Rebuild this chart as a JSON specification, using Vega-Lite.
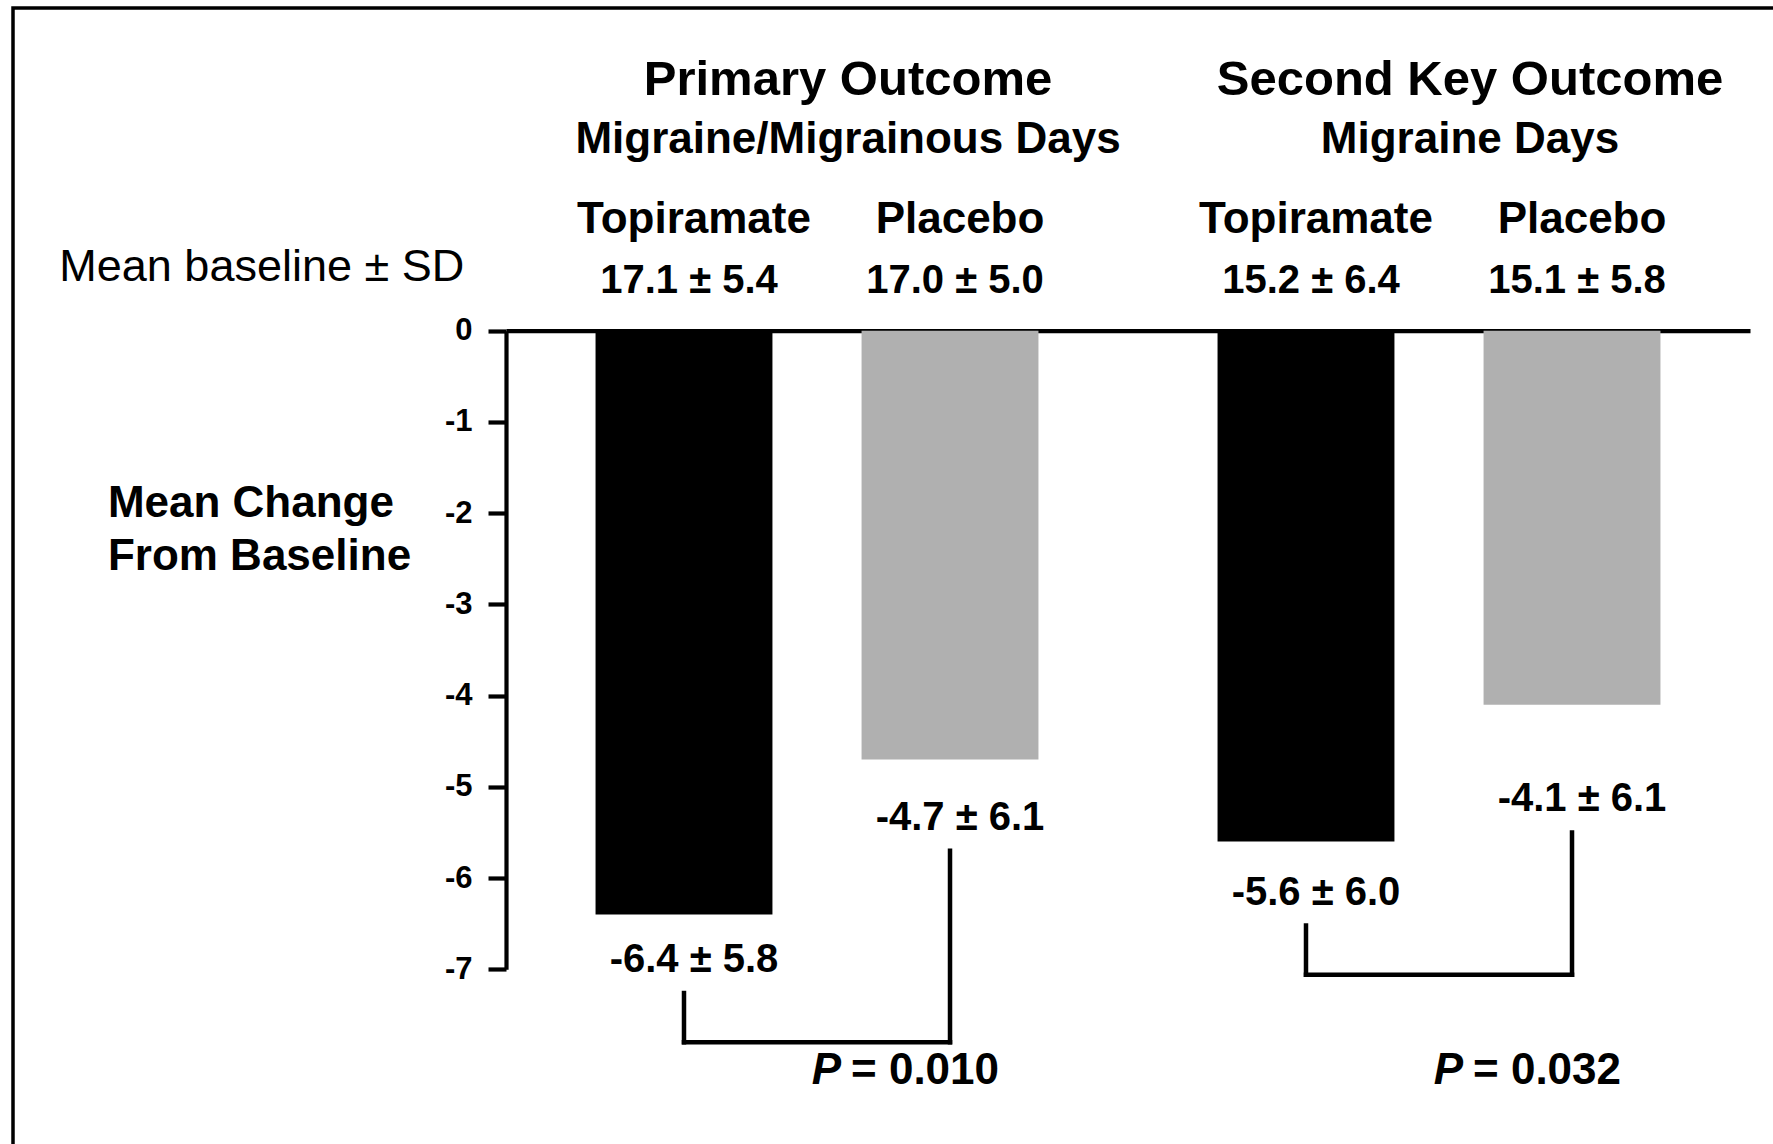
{
  "$schema": "https://vega.github.io/schema/vega-lite/v6.json",
  "width": 1780,
  "height": 1156,
  "autosize": "none",
  "padding": {"left": 13, "top": 8, "right": -20, "bottom": -20},
  "background": "white",
  "config": {
    "view": {"stroke": "black", "strokeWidth": 3.5},
    "text": {"font": "Liberation Sans", "fontWeight": "bold", "color": "black"},
    "line": {"color": "black"},
    "rule": {"color": "black"}
  },
  "datasets": {
    "arms": [
      {"outcome": "Primary", "treatment": "Topiramate", "baseline": "17.1 ± 5.4", "change": -6.4, "sd": 5.8, "change_label": "-6.4 ± 5.8", "bracket_top": -7.26, "bracket_bottom": -7.8},
      {"outcome": "Primary", "treatment": "Placebo", "baseline": "17.0 ± 5.0", "change": -4.7, "sd": 6.1, "change_label": "-4.7 ± 6.1", "bracket_top": -5.7, "bracket_bottom": -7.8},
      {"outcome": "Second", "treatment": "Topiramate", "baseline": "15.2 ± 6.4", "change": -5.6, "sd": 6.0, "change_label": "-5.6 ± 6.0", "bracket_top": -6.52, "bracket_bottom": -7.06},
      {"outcome": "Second", "treatment": "Placebo", "baseline": "15.1 ± 5.8", "change": -4.1, "sd": 6.1, "change_label": "-4.1 ± 6.1", "bracket_top": -5.5, "bracket_bottom": -7.06}
    ],
    "outcomes": [
      {"outcome": "Primary", "title": "Primary Outcome", "subtitle": "Migraine/Migrainous Days", "p_label": "= 0.010"},
      {"outcome": "Second", "title": "Second Key Outcome", "subtitle": "Migraine Days", "p_label": "= 0.032"}
    ]
  },
  "encoding": {
    "x": {
      "field": "outcome",
      "type": "nominal",
      "sort": ["Primary", "Second"],
      "scale": {"type": "band", "range": [493, 1737], "paddingInner": 0, "paddingOuter": 0},
      "axis": {
        "orient": "top",
        "offset": -322.7,
        "domain": true,
        "domainColor": "black",
        "domainWidth": 4.2,
        "ticks": false,
        "labels": false,
        "grid": false,
        "title": "Mean baseline ± SD",
        "titleX": 45.8,
        "titleY": -63.9,
        "titleAlign": "left",
        "titleBaseline": "middle",
        "titleAngle": 0,
        "titleFont": "Liberation Sans",
        "titleFontSize": 45,
        "titleFontWeight": "normal",
        "titleColor": "black"
      }
    }
  },
  "layer": [
    {
      "data": {"name": "arms"},
      "mark": {"type": "bar"},
      "encoding": {
        "xOffset": {"field": "treatment", "type": "nominal", "sort": ["Topiramate", "Placebo"], "scale": {"paddingInner": 0.335, "paddingOuter": 0.3366}},
        "y": {
          "field": "change",
          "type": "quantitative",
          "scale": {"domain": [-7, 0], "range": [961.3, 322.7], "nice": false, "zero": false},
          "axis": {
            "orient": "left",
            "offset": -493,
            "values": [0, -1, -2, -3, -4, -5, -6, -7],
            "labelExpr": "datum.value == 0 ? '0' : '-' + abs(datum.value)",
            "labelFont": "Liberation Sans",
            "labelFontWeight": "bold",
            "labelFontSize": 31,
            "labelColor": "black",
            "labelPadding": 16,
            "labelFlush": false,
            "labelOverlap": false,
            "tickSize": 18,
            "tickWidth": 4.2,
            "tickColor": "black",
            "domainColor": "black",
            "domainWidth": 4.2,
            "grid": false,
            "title": ["Mean Change", "From Baseline"],
            "titleAngle": 0,
            "titleAlign": "left",
            "titleBaseline": "middle",
            "titleX": -398.6,
            "titleY": 495.5,
            "titleFont": "Liberation Sans",
            "titleFontSize": 44,
            "titleFontWeight": "bold",
            "titleLineHeight": 53,
            "titleColor": "black"
          }
        },
        "color": {"field": "treatment", "type": "nominal", "scale": {"domain": ["Topiramate", "Placebo"], "range": ["#000000", "#b0b0b0"]}, "legend": null}
      }
    },
    {
      "data": {"name": "arms"},
      "mark": {"type": "rule", "strokeWidth": 4.5, "strokeCap": "square", "color": "black"},
      "encoding": {
        "xOffset": {"field": "treatment", "type": "nominal", "sort": ["Topiramate", "Placebo"]},
        "y": {"field": "bracket_top", "type": "quantitative"},
        "y2": {"field": "bracket_bottom"}
      }
    },
    {
      "data": {"name": "arms"},
      "mark": {"type": "line", "strokeWidth": 4.5, "strokeCap": "square", "color": "black"},
      "encoding": {
        "xOffset": {"field": "treatment", "type": "nominal", "sort": ["Topiramate", "Placebo"]},
        "y": {"field": "bracket_bottom", "type": "quantitative"},
        "detail": {"field": "outcome"}
      }
    },
    {
      "data": {"name": "arms"},
      "mark": {"type": "text", "fontSize": 40, "dx": 10, "dy": -33, "baseline": "middle"},
      "encoding": {
        "xOffset": {"field": "treatment", "type": "nominal", "sort": ["Topiramate", "Placebo"]},
        "y": {"field": "bracket_top", "type": "quantitative"},
        "text": {"field": "change_label"}
      }
    },
    {
      "data": {"name": "arms"},
      "mark": {"type": "text", "fontSize": 44, "dx": 10, "baseline": "middle"},
      "encoding": {
        "xOffset": {"field": "treatment", "type": "nominal", "sort": ["Topiramate", "Placebo"]},
        "y": {"datum": 1.21, "type": "quantitative"},
        "text": {"field": "treatment"}
      }
    },
    {
      "data": {"name": "arms"},
      "mark": {"type": "text", "fontSize": 40, "dx": 5, "baseline": "middle"},
      "encoding": {
        "xOffset": {"field": "treatment", "type": "nominal", "sort": ["Topiramate", "Placebo"]},
        "y": {"datum": 0.55, "type": "quantitative"},
        "text": {"field": "baseline"}
      }
    },
    {
      "data": {"name": "outcomes"},
      "mark": {"type": "text", "fontSize": 49, "dx": 31, "baseline": "middle"},
      "encoding": {
        "y": {"datum": 2.75, "type": "quantitative"},
        "text": {"field": "title"}
      }
    },
    {
      "data": {"name": "outcomes"},
      "mark": {"type": "text", "fontSize": 44, "dx": 31, "baseline": "middle"},
      "encoding": {
        "y": {"datum": 2.09, "type": "quantitative"},
        "text": {"field": "subtitle"}
      }
    },
    {
      "data": {"name": "outcomes"},
      "mark": {"type": "text", "fontSize": 44, "fontStyle": "italic", "align": "right", "dx": 24, "baseline": "middle"},
      "encoding": {
        "y": {"datum": -8.12, "type": "quantitative"},
        "text": {"value": "P"}
      }
    },
    {
      "data": {"name": "outcomes"},
      "mark": {"type": "text", "fontSize": 44, "align": "left", "dx": 34, "baseline": "middle"},
      "encoding": {
        "y": {"datum": -8.12, "type": "quantitative"},
        "text": {"field": "p_label"}
      }
    }
  ]
}
